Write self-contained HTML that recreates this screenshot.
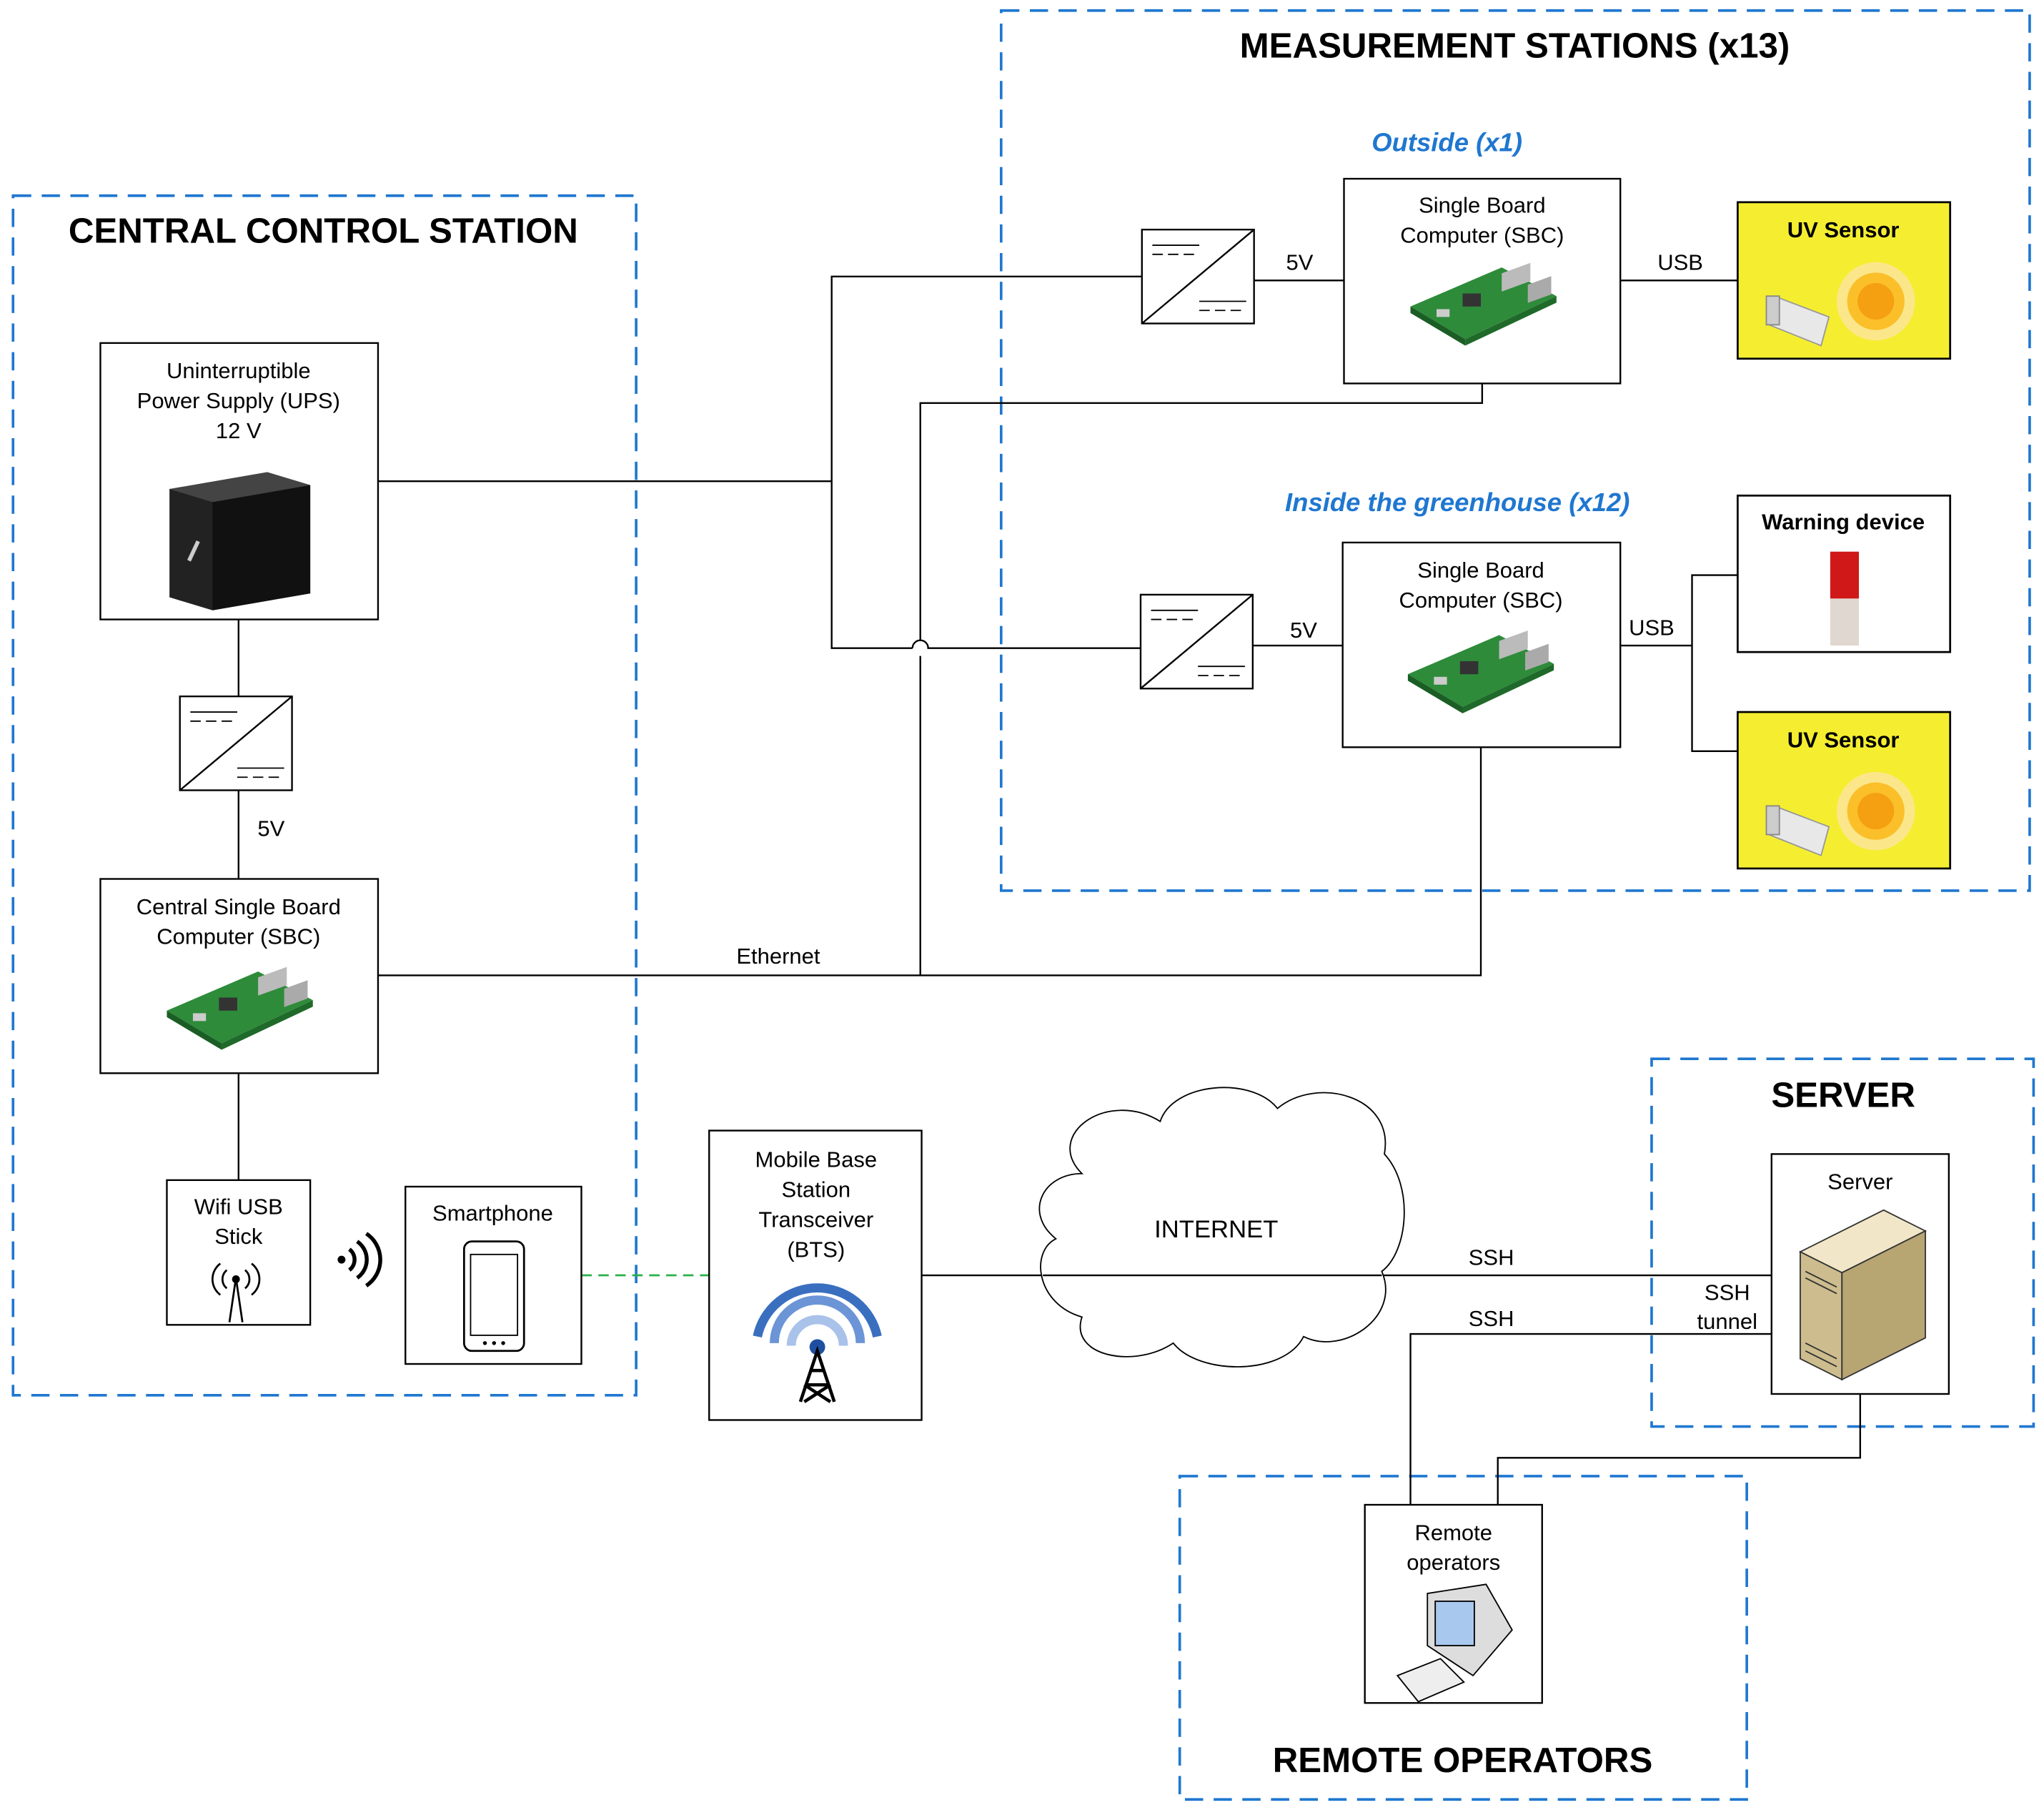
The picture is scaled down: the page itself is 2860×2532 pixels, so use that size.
<!DOCTYPE html>
<html><head><meta charset="utf-8"><style>html,body{margin:0;padding:0;background:#fff}svg{display:block}</style></head>
<body>
<svg xmlns="http://www.w3.org/2000/svg" width="2860" height="2532" viewBox="0 0 1568 1388" font-family="Liberation Sans, sans-serif">
<defs>
<g id="conv"><rect x="0" y="0" width="86" height="72" fill="#fff" stroke="#000" stroke-width="1.3"/><line x1="0" y1="72" x2="86" y2="0" stroke="#000" stroke-width="1.3"/><line x1="8" y1="12" x2="44" y2="12" stroke="#000"/><line x1="8" y1="19" x2="44" y2="19" stroke="#000" stroke-dasharray="8 4"/><line x1="44" y1="55" x2="80" y2="55" stroke="#000"/><line x1="44" y1="62" x2="80" y2="62" stroke="#000" stroke-dasharray="8 4"/></g>
<g id="rpi"><polygon points="0,30 70,0 112,22 42,55" fill="#2e8b3a"/><polygon points="0,30 42,55 42,60 0,35" fill="#1b5e25"/><polygon points="42,55 112,22 112,27 42,60" fill="#1f6a2a"/><rect x="70" y="0" width="22" height="14" fill="#bbb" transform="skewY(-20) translate(0,30)"/><rect x="90" y="8" width="18" height="14" fill="#aaa" transform="skewY(-20) translate(0,38)"/><rect x="40" y="20" width="14" height="10" fill="#333"/><rect x="20" y="32" width="10" height="6" fill="#ccc"/></g>
<g id="uv"><rect x="0" y="0" width="163" height="120" fill="#f5ee30" stroke="#000" stroke-width="1.5"/><circle cx="106" cy="76" r="30" fill="#fbe78a"/><circle cx="106" cy="76" r="22" fill="#fbbf2a"/><circle cx="106" cy="76" r="14" fill="#f5a010"/><polygon points="28,72 70,88 64,110 24,94" fill="#e8e8e8" stroke="#999"/><rect x="22" y="72" width="10" height="22" fill="#ccc" stroke="#888"/><text x="81" y="27" font-size="17" font-weight="bold" text-anchor="middle">UV Sensor</text></g>
</defs>
<g fill="none" stroke="#1f77d0" stroke-width="2" stroke-dasharray="14 8">
<rect x="10" y="150" width="478" height="920"/>
<rect x="768" y="8" width="789" height="675"/>
<rect x="1267" y="812" width="293" height="282"/>
<rect x="905" y="1132" width="435" height="248"/>
</g>
<g font-weight="bold" font-size="27" text-anchor="middle" fill="#000">
<text x="248" y="186">CENTRAL CONTROL STATION</text>
<text x="1162" y="44">MEASUREMENT STATIONS (x13)</text>
<text x="1414" y="849">SERVER</text>
<text x="1122" y="1359">REMOTE OPERATORS</text>
</g>
<g font-style="italic" font-weight="bold" font-size="20" fill="#1f77d0" text-anchor="middle">
<text x="1110" y="116">Outside (x1)</text>
<text x="1118" y="392">Inside the greenhouse (x12)</text>
</g>
<!-- lines -->
<g stroke="#000" stroke-width="1.3" fill="none">
<polyline points="290,369 638,369"/>
<polyline points="876,212 638,212 638,497 700,497"/>
<path d="M700,497 A6,6 0 0 1 712,497 L875,497"/>
<line x1="962" y1="215" x2="1031" y2="215"/>
<line x1="1243" y1="215" x2="1333" y2="215"/>
<polyline points="1137,294 1137,309 706,309 706,491"/>
<line x1="706" y1="503" x2="706" y2="748"/>
<polyline points="290,748 1136,748 1136,573"/>
<line x1="961" y1="495" x2="1030" y2="495"/>
<line x1="1243" y1="495" x2="1298" y2="495"/>
<polyline points="1333,441 1298,441 1298,576 1333,576"/>
<line x1="183" y1="475" x2="183" y2="534"/>
<line x1="183" y1="606" x2="183" y2="674"/>
<line x1="183" y1="823" x2="183" y2="905"/>
<line x1="707" y1="978" x2="1359" y2="978"/>
<polyline points="1082,1154 1082,1023 1359,1023"/>
<polyline points="1427,1069 1427,1118 1149,1118 1149,1154"/>
</g>
<line x1="446" y1="978" x2="544" y2="978" stroke="#2bb04a" stroke-width="1.5" stroke-dasharray="8 5"/>
<!-- cloud -->
<path d="M830,900 C800,870 850,835 890,860 C900,830 960,825 980,850 C1010,825 1070,840 1062,885 C1085,910 1080,960 1060,975 C1075,1010 1030,1040 1000,1025 C985,1055 920,1055 900,1030 C870,1050 820,1040 830,1010 C795,1000 790,960 810,950 C785,930 800,900 830,900 Z" fill="#fff" stroke="#000" stroke-width="1"/>
<line x1="800" y1="978" x2="1060" y2="978" stroke="#000" stroke-width="1.3"/>
<g font-size="17" text-anchor="middle" fill="#000">
<text x="933" y="949" font-size="19">INTERNET</text>
<text x="997" y="207">5V</text>
<text x="1289" y="207">USB</text>
<text x="1000" y="489">5V</text>
<text x="1267" y="487">USB</text>
<text x="208" y="641">5V</text>
<text x="597" y="739">Ethernet</text>
<text x="1144" y="970">SSH</text>
<text x="1144" y="1017">SSH</text>
<text x="1325" y="997">SSH</text>
<text x="1325" y="1019">tunnel</text>
</g>
<!-- nodes -->
<g fill="#fff" stroke="#000" stroke-width="1.3">
<rect x="77" y="263" width="213" height="212"/>
<rect x="77" y="674" width="213" height="149"/>
<rect x="128" y="905" width="110" height="111"/>
<rect x="311" y="910" width="135" height="136"/>
<rect x="544" y="867" width="163" height="222"/>
<rect x="1359" y="885" width="136" height="184"/>
<rect x="1047" y="1154" width="136" height="152"/>
<rect x="1031" y="137" width="212" height="157"/>
<rect x="1030" y="416" width="213" height="157"/>
<rect x="1333" y="380" width="163" height="120" stroke-width="1.5"/>
</g>
<use href="#conv" x="138" y="534"/>
<use href="#conv" x="876" y="176"/>
<use href="#conv" x="875" y="456"/>
<use href="#uv" x="1333" y="155"/>
<use href="#uv" x="1333" y="546"/>
<use href="#rpi" x="1082" y="205"/>
<use href="#rpi" x="1080" y="487"/>
<use href="#rpi" x="128" y="745"/>
<g font-size="17" text-anchor="middle" fill="#000">
<text x="183" y="290">Uninterruptible</text>
<text x="183" y="313">Power Supply (UPS)</text>
<text x="183" y="336">12 V</text>
<text x="183" y="701">Central Single Board</text>
<text x="183" y="724">Computer (SBC)</text>
<text x="183" y="931">Wifi USB</text>
<text x="183" y="954">Stick</text>
<text x="378" y="936">Smartphone</text>
<text x="626" y="895">Mobile Base</text>
<text x="626" y="918">Station</text>
<text x="626" y="941">Transceiver</text>
<text x="626" y="964">(BTS)</text>
<text x="1427" y="912">Server</text>
<text x="1115" y="1181">Remote</text>
<text x="1115" y="1204">operators</text>
<text x="1137" y="163">Single Board</text>
<text x="1137" y="186">Computer (SBC)</text>
<text x="1136" y="443">Single Board</text>
<text x="1136" y="466">Computer (SBC)</text>
<text x="1414" y="406" font-weight="bold">Warning device</text>
</g>
<!-- UPS icon -->
<polygon points="130,375 205,362 238,372 238,455 163,468 130,458" fill="#222"/>
<polygon points="163,385 238,372 238,455 163,468" fill="#111"/>
<polygon points="130,375 205,362 238,372 163,385" fill="#444"/>
<path d="M145,430 L152,415" stroke="#ccc" stroke-width="3"/>
<!-- wifi stick icon -->
<g stroke="#000" stroke-width="1.5" fill="none"><line x1="181" y1="980" x2="176" y2="1014"/><line x1="181" y1="980" x2="186" y2="1014"/><path d="M174,974 A9,9 0 0 0 174,988 M188,974 A9,9 0 0 1 188,988 M169,969 A15,15 0 0 0 169,993 M193,969 A15,15 0 0 1 193,993"/></g>
<circle cx="181" cy="981" r="3" fill="#000"/>
<!-- wireless symbol -->
<circle cx="262" cy="966" r="3" fill="#000"/>
<g stroke="#000" stroke-width="3" fill="none"><path d="M268,958 A10,10 0 0 1 268,974"/><path d="M274,952 A17,17 0 0 1 274,980"/><path d="M281,946 A24,24 0 0 1 281,986"/></g>
<!-- smartphone -->
<rect x="356" y="952" width="46" height="84" rx="6" fill="#fff" stroke="#000" stroke-width="1.5"/>
<rect x="361" y="962" width="36" height="62" fill="#fff" stroke="#000"/>
<circle cx="372" cy="1030" r="1.5"/><circle cx="379" cy="1030" r="1.5"/><circle cx="386" cy="1030" r="1.5"/>
<!-- BTS -->
<g fill="none" stroke-width="7"><path d="M581,1025 A47,47 0 0 1 673,1025" stroke="#3a6fc0"/><path d="M594,1030 A33,33 0 0 1 660,1030" stroke="#6b95d6"/><path d="M607,1032 A20,20 0 0 1 647,1032" stroke="#a9c2ea"/></g>
<circle cx="627" cy="1033" r="6" fill="#1f4fa0"/>
<g stroke="#000" stroke-width="2.5" fill="none"><polyline points="614,1075 627,1036 640,1075"/><line x1="618" y1="1062" x2="636" y2="1062"/><line x1="621" y1="1051" x2="633" y2="1051"/><line x1="617" y1="1062" x2="637" y2="1075"/><line x1="637" y1="1062" x2="617" y2="1075"/></g>
<!-- warning device -->
<rect x="1404" y="423" width="22" height="36" fill="#d01818"/>
<rect x="1404" y="459" width="22" height="36" fill="#e0d8d0"/>
<!-- server icon -->
<polygon points="1381,960 1445,928 1477,944 1413,976" fill="#f1e7c8" stroke="#333"/>
<polygon points="1381,960 1413,976 1413,1058 1381,1042" fill="#cdbd8e" stroke="#333"/>
<polygon points="1413,976 1477,944 1477,1026 1413,1058" fill="#b7a572" stroke="#333"/>
<g stroke="#333"><line x1="1385" y1="975" x2="1409" y2="987"/><line x1="1385" y1="980" x2="1409" y2="992"/><line x1="1385" y1="1030" x2="1409" y2="1042"/><line x1="1385" y1="1036" x2="1409" y2="1048"/></g>
<!-- computer icon -->
<polygon points="1095,1222 1140,1215 1160,1250 1130,1285 1095,1262" fill="#ddd" stroke="#000"/>
<rect x="1101" y="1228" width="30" height="34" fill="#a8c8ee" stroke="#000"/>
<polygon points="1072,1285 1105,1272 1123,1290 1088,1305" fill="#eee" stroke="#000"/>
</svg>
</body></html>
